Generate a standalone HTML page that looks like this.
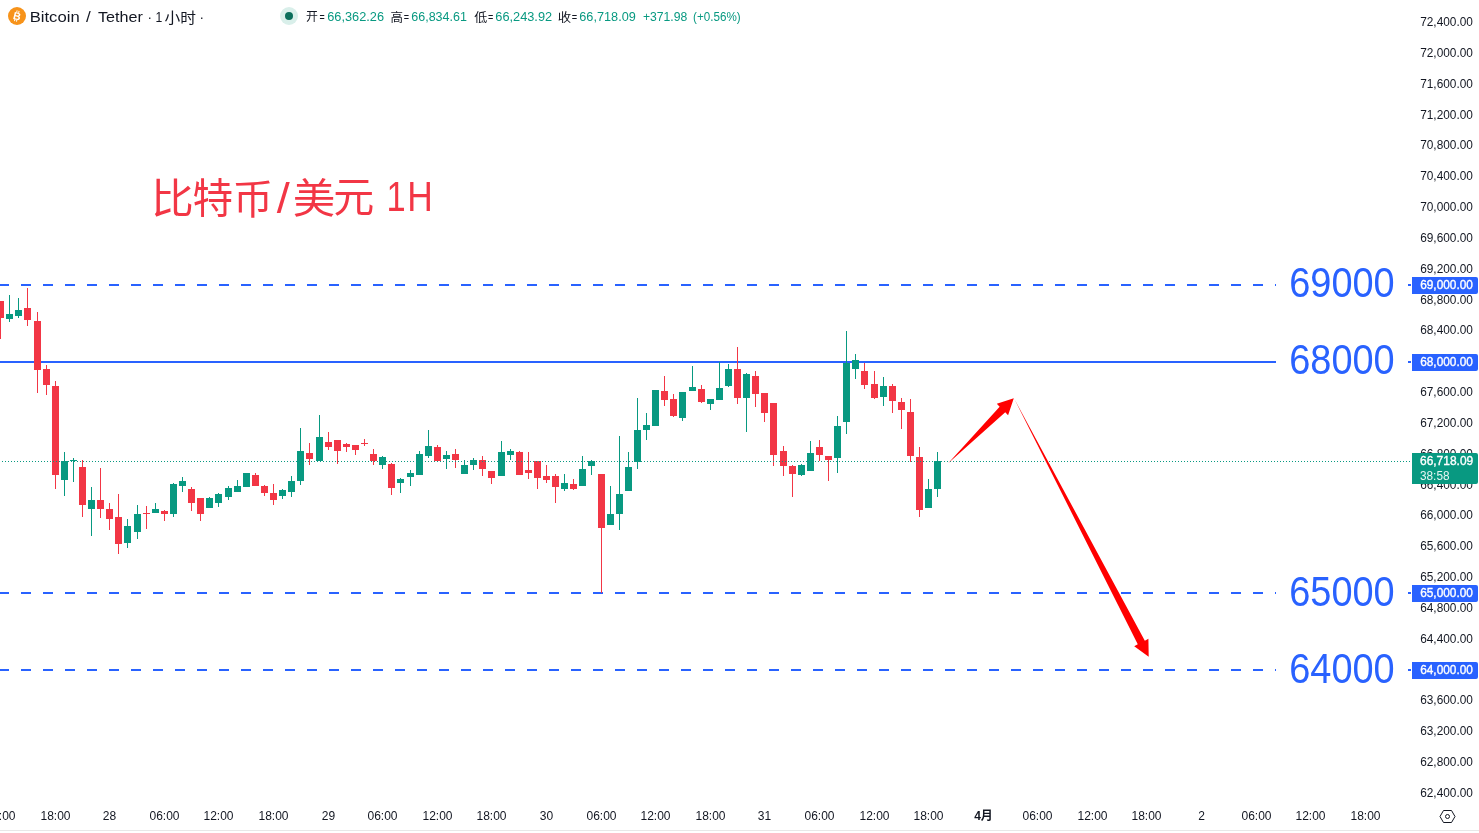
<!DOCTYPE html>
<html><head><meta charset="utf-8"><title>BTC/USDT 1H</title>
<style>html,body{margin:0;padding:0;background:#fff;width:1479px;height:833px;overflow:hidden}svg{display:block;will-change:transform}</style>
</head><body><svg width="1479" height="833" viewBox="0 0 1479 833"><line x1="-1" y1="285" x2="1276" y2="285" stroke="#2962ff" stroke-width="2" stroke-dasharray="10 12"/><rect x="1408" y="284" width="3" height="2" fill="#2962ff"/><rect x="0" y="361" width="1276" height="2" fill="#2962ff"/><rect x="1408" y="361" width="3" height="2" fill="#2962ff"/><line x1="-1" y1="593" x2="1276" y2="593" stroke="#2962ff" stroke-width="2" stroke-dasharray="10 12"/><rect x="1408" y="592" width="3" height="2" fill="#2962ff"/><line x1="-1" y1="670" x2="1276" y2="670" stroke="#2962ff" stroke-width="2" stroke-dasharray="10 12"/><rect x="1408" y="669" width="3" height="2" fill="#2962ff"/><g shape-rendering="crispEdges"><rect x="0" y="301" width="1" height="38" fill="#f23645"/><rect x="-3" y="301" width="7" height="17" fill="#f23645"/><rect x="9" y="295" width="1" height="27" fill="#089981"/><rect x="6" y="314" width="7" height="5" fill="#089981"/><rect x="18" y="298" width="1" height="20" fill="#089981"/><rect x="15" y="310" width="7" height="6" fill="#089981"/><rect x="27" y="288" width="1" height="38" fill="#f23645"/><rect x="24" y="308" width="7" height="12" fill="#f23645"/><rect x="37" y="312" width="1" height="81" fill="#f23645"/><rect x="34" y="321" width="7" height="49" fill="#f23645"/><rect x="46" y="365" width="1" height="30" fill="#f23645"/><rect x="43" y="369" width="7" height="16" fill="#f23645"/><rect x="55" y="381" width="1" height="108" fill="#f23645"/><rect x="52" y="386" width="7" height="89" fill="#f23645"/><rect x="64" y="452" width="1" height="44" fill="#089981"/><rect x="61" y="461" width="7" height="19" fill="#089981"/><rect x="73" y="458" width="1" height="24" fill="#089981"/><rect x="70" y="460" width="7" height="1" fill="#089981"/><rect x="82" y="460" width="1" height="57" fill="#f23645"/><rect x="79" y="467" width="7" height="38" fill="#f23645"/><rect x="91" y="487" width="1" height="49" fill="#089981"/><rect x="88" y="500" width="7" height="9" fill="#089981"/><rect x="100" y="468" width="1" height="50" fill="#f23645"/><rect x="97" y="500" width="7" height="9" fill="#f23645"/><rect x="109" y="503" width="1" height="27" fill="#f23645"/><rect x="106" y="509" width="7" height="10" fill="#f23645"/><rect x="118" y="494" width="1" height="60" fill="#f23645"/><rect x="115" y="517" width="7" height="27" fill="#f23645"/><rect x="127" y="519" width="1" height="29" fill="#089981"/><rect x="124" y="526" width="7" height="17" fill="#089981"/><rect x="137" y="505" width="1" height="34" fill="#089981"/><rect x="134" y="514" width="7" height="18" fill="#089981"/><rect x="146" y="506" width="1" height="23" fill="#f23645"/><rect x="143" y="513" width="7" height="1" fill="#f23645"/><rect x="155" y="503" width="1" height="10" fill="#089981"/><rect x="152" y="509" width="7" height="4" fill="#089981"/><rect x="164" y="510" width="1" height="11" fill="#f23645"/><rect x="161" y="511" width="7" height="3" fill="#f23645"/><rect x="173" y="483" width="1" height="34" fill="#089981"/><rect x="170" y="484" width="7" height="30" fill="#089981"/><rect x="182" y="477" width="1" height="15" fill="#089981"/><rect x="179" y="481" width="7" height="5" fill="#089981"/><rect x="191" y="487" width="1" height="24" fill="#f23645"/><rect x="188" y="489" width="7" height="14" fill="#f23645"/><rect x="200" y="498" width="1" height="23" fill="#f23645"/><rect x="197" y="498" width="7" height="16" fill="#f23645"/><rect x="209" y="497" width="1" height="11" fill="#089981"/><rect x="206" y="498" width="7" height="10" fill="#089981"/><rect x="218" y="493" width="1" height="14" fill="#089981"/><rect x="215" y="494" width="7" height="9" fill="#089981"/><rect x="228" y="486" width="1" height="14" fill="#089981"/><rect x="225" y="488" width="7" height="9" fill="#089981"/><rect x="237" y="480" width="1" height="12" fill="#089981"/><rect x="234" y="486" width="7" height="6" fill="#089981"/><rect x="246" y="473" width="1" height="14" fill="#089981"/><rect x="243" y="473" width="7" height="14" fill="#089981"/><rect x="255" y="473" width="1" height="13" fill="#f23645"/><rect x="252" y="475" width="7" height="11" fill="#f23645"/><rect x="264" y="485" width="1" height="11" fill="#f23645"/><rect x="261" y="486" width="7" height="7" fill="#f23645"/><rect x="273" y="484" width="1" height="21" fill="#f23645"/><rect x="270" y="493" width="7" height="7" fill="#f23645"/><rect x="282" y="489" width="1" height="10" fill="#089981"/><rect x="279" y="490" width="7" height="6" fill="#089981"/><rect x="291" y="476" width="1" height="21" fill="#089981"/><rect x="288" y="481" width="7" height="11" fill="#089981"/><rect x="300" y="428" width="1" height="57" fill="#089981"/><rect x="297" y="451" width="7" height="30" fill="#089981"/><rect x="309" y="443" width="1" height="22" fill="#f23645"/><rect x="306" y="453" width="7" height="6" fill="#f23645"/><rect x="319" y="415" width="1" height="46" fill="#089981"/><rect x="316" y="437" width="7" height="24" fill="#089981"/><rect x="328" y="432" width="1" height="18" fill="#f23645"/><rect x="325" y="442" width="7" height="5" fill="#f23645"/><rect x="337" y="440" width="1" height="24" fill="#f23645"/><rect x="334" y="440" width="7" height="11" fill="#f23645"/><rect x="346" y="443" width="1" height="9" fill="#f23645"/><rect x="343" y="444" width="7" height="3" fill="#f23645"/><rect x="355" y="445" width="1" height="10" fill="#f23645"/><rect x="352" y="445" width="7" height="5" fill="#f23645"/><rect x="364" y="439" width="1" height="7" fill="#f23645"/><rect x="361" y="443" width="7" height="1" fill="#f23645"/><rect x="373" y="449" width="1" height="16" fill="#f23645"/><rect x="370" y="454" width="7" height="7" fill="#f23645"/><rect x="382" y="456" width="1" height="13" fill="#089981"/><rect x="379" y="457" width="7" height="8" fill="#089981"/><rect x="391" y="463" width="1" height="32" fill="#f23645"/><rect x="388" y="464" width="7" height="24" fill="#f23645"/><rect x="400" y="478" width="1" height="15" fill="#089981"/><rect x="397" y="479" width="7" height="4" fill="#089981"/><rect x="410" y="470" width="1" height="16" fill="#089981"/><rect x="407" y="473" width="7" height="4" fill="#089981"/><rect x="419" y="451" width="1" height="24" fill="#089981"/><rect x="416" y="454" width="7" height="21" fill="#089981"/><rect x="428" y="430" width="1" height="28" fill="#089981"/><rect x="425" y="446" width="7" height="10" fill="#089981"/><rect x="437" y="445" width="1" height="16" fill="#f23645"/><rect x="434" y="447" width="7" height="14" fill="#f23645"/><rect x="446" y="451" width="1" height="18" fill="#089981"/><rect x="443" y="455" width="7" height="4" fill="#089981"/><rect x="455" y="449" width="1" height="19" fill="#f23645"/><rect x="452" y="454" width="7" height="6" fill="#f23645"/><rect x="464" y="460" width="1" height="14" fill="#089981"/><rect x="461" y="465" width="7" height="9" fill="#089981"/><rect x="473" y="458" width="1" height="12" fill="#089981"/><rect x="470" y="460" width="7" height="5" fill="#089981"/><rect x="482" y="456" width="1" height="20" fill="#f23645"/><rect x="479" y="460" width="7" height="9" fill="#f23645"/><rect x="491" y="471" width="1" height="13" fill="#f23645"/><rect x="488" y="471" width="7" height="7" fill="#f23645"/><rect x="501" y="441" width="1" height="35" fill="#089981"/><rect x="498" y="452" width="7" height="24" fill="#089981"/><rect x="510" y="449" width="1" height="11" fill="#089981"/><rect x="507" y="451" width="7" height="4" fill="#089981"/><rect x="519" y="451" width="1" height="24" fill="#f23645"/><rect x="516" y="452" width="7" height="23" fill="#f23645"/><rect x="528" y="452" width="1" height="27" fill="#f23645"/><rect x="525" y="470" width="7" height="3" fill="#f23645"/><rect x="537" y="461" width="1" height="28" fill="#f23645"/><rect x="534" y="461" width="7" height="17" fill="#f23645"/><rect x="546" y="465" width="1" height="18" fill="#f23645"/><rect x="543" y="476" width="7" height="4" fill="#f23645"/><rect x="555" y="474" width="1" height="29" fill="#f23645"/><rect x="552" y="476" width="7" height="11" fill="#f23645"/><rect x="564" y="474" width="1" height="17" fill="#089981"/><rect x="561" y="483" width="7" height="6" fill="#089981"/><rect x="573" y="479" width="1" height="11" fill="#f23645"/><rect x="570" y="484" width="7" height="5" fill="#f23645"/><rect x="582" y="456" width="1" height="30" fill="#089981"/><rect x="579" y="469" width="7" height="17" fill="#089981"/><rect x="591" y="460" width="1" height="15" fill="#089981"/><rect x="588" y="461" width="7" height="5" fill="#089981"/><rect x="601" y="474" width="1" height="119" fill="#f23645"/><rect x="598" y="474" width="7" height="54" fill="#f23645"/><rect x="610" y="486" width="1" height="39" fill="#089981"/><rect x="607" y="514" width="7" height="11" fill="#089981"/><rect x="619" y="436" width="1" height="94" fill="#089981"/><rect x="616" y="494" width="7" height="20" fill="#089981"/><rect x="628" y="452" width="1" height="39" fill="#089981"/><rect x="625" y="467" width="7" height="24" fill="#089981"/><rect x="637" y="398" width="1" height="71" fill="#089981"/><rect x="634" y="430" width="7" height="32" fill="#089981"/><rect x="646" y="413" width="1" height="27" fill="#089981"/><rect x="643" y="425" width="7" height="5" fill="#089981"/><rect x="655" y="390" width="1" height="36" fill="#089981"/><rect x="652" y="390" width="7" height="36" fill="#089981"/><rect x="664" y="376" width="1" height="30" fill="#f23645"/><rect x="661" y="391" width="7" height="9" fill="#f23645"/><rect x="673" y="394" width="1" height="23" fill="#f23645"/><rect x="670" y="399" width="7" height="17" fill="#f23645"/><rect x="682" y="392" width="1" height="29" fill="#089981"/><rect x="679" y="392" width="7" height="26" fill="#089981"/><rect x="692" y="366" width="1" height="25" fill="#089981"/><rect x="689" y="387" width="7" height="4" fill="#089981"/><rect x="701" y="385" width="1" height="18" fill="#f23645"/><rect x="698" y="389" width="7" height="13" fill="#f23645"/><rect x="710" y="399" width="1" height="11" fill="#089981"/><rect x="707" y="399" width="7" height="5" fill="#089981"/><rect x="719" y="362" width="1" height="38" fill="#089981"/><rect x="716" y="388" width="7" height="12" fill="#089981"/><rect x="728" y="364" width="1" height="23" fill="#089981"/><rect x="725" y="369" width="7" height="17" fill="#089981"/><rect x="737" y="347" width="1" height="57" fill="#f23645"/><rect x="734" y="369" width="7" height="29" fill="#f23645"/><rect x="746" y="373" width="1" height="59" fill="#089981"/><rect x="743" y="374" width="7" height="24" fill="#089981"/><rect x="755" y="371" width="1" height="36" fill="#f23645"/><rect x="752" y="376" width="7" height="18" fill="#f23645"/><rect x="764" y="393" width="1" height="29" fill="#f23645"/><rect x="761" y="393" width="7" height="20" fill="#f23645"/><rect x="773" y="403" width="1" height="63" fill="#f23645"/><rect x="770" y="403" width="7" height="52" fill="#f23645"/><rect x="783" y="446" width="1" height="30" fill="#f23645"/><rect x="780" y="451" width="7" height="15" fill="#f23645"/><rect x="792" y="465" width="1" height="32" fill="#f23645"/><rect x="789" y="466" width="7" height="8" fill="#f23645"/><rect x="801" y="464" width="1" height="12" fill="#089981"/><rect x="798" y="465" width="7" height="10" fill="#089981"/><rect x="810" y="441" width="1" height="30" fill="#089981"/><rect x="807" y="453" width="7" height="18" fill="#089981"/><rect x="819" y="440" width="1" height="21" fill="#f23645"/><rect x="816" y="447" width="7" height="8" fill="#f23645"/><rect x="828" y="456" width="1" height="25" fill="#f23645"/><rect x="825" y="456" width="7" height="4" fill="#f23645"/><rect x="837" y="416" width="1" height="57" fill="#089981"/><rect x="834" y="426" width="7" height="32" fill="#089981"/><rect x="846" y="331" width="1" height="103" fill="#089981"/><rect x="843" y="363" width="7" height="59" fill="#089981"/><rect x="855" y="354" width="1" height="25" fill="#089981"/><rect x="852" y="360" width="7" height="9" fill="#089981"/><rect x="864" y="363" width="1" height="26" fill="#f23645"/><rect x="861" y="371" width="7" height="14" fill="#f23645"/><rect x="874" y="371" width="1" height="28" fill="#f23645"/><rect x="871" y="384" width="7" height="14" fill="#f23645"/><rect x="883" y="377" width="1" height="29" fill="#089981"/><rect x="880" y="386" width="7" height="11" fill="#089981"/><rect x="892" y="384" width="1" height="29" fill="#f23645"/><rect x="889" y="386" width="7" height="15" fill="#f23645"/><rect x="901" y="398" width="1" height="31" fill="#f23645"/><rect x="898" y="402" width="7" height="8" fill="#f23645"/><rect x="910" y="399" width="1" height="63" fill="#f23645"/><rect x="907" y="412" width="7" height="44" fill="#f23645"/><rect x="919" y="447" width="1" height="70" fill="#f23645"/><rect x="916" y="457" width="7" height="53" fill="#f23645"/><rect x="928" y="479" width="1" height="29" fill="#089981"/><rect x="925" y="489" width="7" height="19" fill="#089981"/><rect x="937" y="452" width="1" height="45" fill="#089981"/><rect x="934" y="461" width="7" height="28" fill="#089981"/></g><line x1="2" y1="461.5" x2="1410" y2="461.5" stroke="#089981" stroke-width="1" stroke-dasharray="1 2"/><polygon points="948.20,463.30 1005.26,412.31 1008.08,415.15 1013.80,398.20 996.81,403.79 999.63,406.63" fill="#ff0000"/><polygon points="1014.30,398.80 1137.76,644.36 1134.21,646.21 1148.70,656.70 1148.40,638.81 1144.85,640.66" fill="#ff0000"/><text x="29.68" y="21.90" font-family="'Liberation Sans', sans-serif" font-size="15.5" textLength="50.00" lengthAdjust="spacingAndGlyphs" fill="#131722">Bitcoin</text><text x="85.90" y="21.90" font-family="'Liberation Sans', sans-serif" font-size="15" textLength="4.76" lengthAdjust="spacingAndGlyphs" fill="#131722">/</text><text x="98.00" y="21.90" font-family="'Liberation Sans', sans-serif" font-size="15" textLength="44.88" lengthAdjust="spacingAndGlyphs" fill="#131722">Tether</text><text x="147.40" y="22.00" font-family="'Liberation Sans', sans-serif" font-size="15" textLength="4.50" lengthAdjust="spacingAndGlyphs" fill="#131722">·</text><text x="155.49" y="21.90" font-family="'Liberation Sans', sans-serif" font-size="15" textLength="6.79" lengthAdjust="spacingAndGlyphs" fill="#131722">1</text><text x="164.60" y="23.10" font-family="'Liberation Sans', 'Noto Sans CJK SC', sans-serif" font-size="15" textLength="31.52" lengthAdjust="spacingAndGlyphs" fill="#131722">小时</text><text x="199.50" y="22.00" font-family="'Liberation Sans', sans-serif" font-size="15" textLength="4.50" lengthAdjust="spacingAndGlyphs" fill="#131722">·</text><text x="306.10" y="21.10" font-family="'Liberation Sans', 'Noto Sans CJK SC', sans-serif" font-size="12" textLength="11.92" lengthAdjust="spacingAndGlyphs" fill="#131722">开</text><text x="319.50" y="20.80" font-family="'Liberation Sans', sans-serif" font-size="12" textLength="5.21" lengthAdjust="spacingAndGlyphs" fill="#131722">=</text><text x="327.20" y="20.80" font-family="'Liberation Sans', sans-serif" font-size="12" textLength="56.82" lengthAdjust="spacingAndGlyphs" fill="#089981">66,362.26</text><text x="390.50" y="22.10" font-family="'Liberation Sans', 'Noto Sans CJK SC', sans-serif" font-size="12" textLength="12.52" lengthAdjust="spacingAndGlyphs" fill="#131722">高</text><text x="403.70" y="20.80" font-family="'Liberation Sans', sans-serif" font-size="12" textLength="5.31" lengthAdjust="spacingAndGlyphs" fill="#131722">=</text><text x="411.30" y="20.80" font-family="'Liberation Sans', sans-serif" font-size="12" textLength="55.61" lengthAdjust="spacingAndGlyphs" fill="#089981">66,834.61</text><text x="474.20" y="22.10" font-family="'Liberation Sans', 'Noto Sans CJK SC', sans-serif" font-size="12" textLength="13.02" lengthAdjust="spacingAndGlyphs" fill="#131722">低</text><text x="488.00" y="20.80" font-family="'Liberation Sans', sans-serif" font-size="12" textLength="5.31" lengthAdjust="spacingAndGlyphs" fill="#131722">=</text><text x="495.30" y="20.80" font-family="'Liberation Sans', sans-serif" font-size="12" textLength="56.82" lengthAdjust="spacingAndGlyphs" fill="#089981">66,243.92</text><text x="557.68" y="22.10" font-family="'Liberation Sans', 'Noto Sans CJK SC', sans-serif" font-size="12" textLength="13.44" lengthAdjust="spacingAndGlyphs" fill="#131722">收</text><text x="571.80" y="20.80" font-family="'Liberation Sans', sans-serif" font-size="12" textLength="5.41" lengthAdjust="spacingAndGlyphs" fill="#131722">=</text><text x="579.30" y="20.80" font-family="'Liberation Sans', sans-serif" font-size="12" textLength="56.51" lengthAdjust="spacingAndGlyphs" fill="#089981">66,718.09</text><text x="642.90" y="20.80" font-family="'Liberation Sans', sans-serif" font-size="12" textLength="44.41" lengthAdjust="spacingAndGlyphs" fill="#089981">+371.98</text><text x="693.10" y="20.80" font-family="'Liberation Sans', sans-serif" font-size="12" textLength="47.53" lengthAdjust="spacingAndGlyphs" fill="#089981">(+0.56%)</text><text x="150.93" y="212.90" font-family="'Liberation Sans', 'Noto Sans CJK SC', sans-serif" font-size="41" textLength="42.76" lengthAdjust="spacingAndGlyphs" fill="#f23645">比</text><text x="192.61" y="212.90" font-family="'Liberation Sans', 'Noto Sans CJK SC', sans-serif" font-size="41" textLength="40.58" lengthAdjust="spacingAndGlyphs" fill="#f23645">特</text><text x="232.74" y="213.60" font-family="'Liberation Sans', 'Noto Sans CJK SC', sans-serif" font-size="41" textLength="40.41" lengthAdjust="spacingAndGlyphs" fill="#f23645">币</text><text x="292.72" y="212.60" font-family="'Liberation Sans', 'Noto Sans CJK SC', sans-serif" font-size="41" textLength="42.55" lengthAdjust="spacingAndGlyphs" fill="#f23645">美</text><text x="333.20" y="211.80" font-family="'Liberation Sans', 'Noto Sans CJK SC', sans-serif" font-size="41" textLength="41.00" lengthAdjust="spacingAndGlyphs" fill="#f23645">元</text><text x="276.80" y="213.00" font-family="'Liberation Sans', sans-serif" font-size="42.5" textLength="12.99" lengthAdjust="spacingAndGlyphs" fill="#f23645">/</text><text x="386.57" y="211.00" font-family="'Liberation Sans', sans-serif" font-size="42.5" textLength="19.16" lengthAdjust="spacingAndGlyphs" fill="#f23645">1</text><text x="407.20" y="211.00" font-family="'Liberation Sans', sans-serif" font-size="42.5" textLength="25.55" lengthAdjust="spacingAndGlyphs" fill="#f23645">H</text><text x="1289.19" y="297.00" font-family="'Liberation Sans', sans-serif" font-size="42" textLength="105.53" lengthAdjust="spacingAndGlyphs" fill="#2962ff">69000</text><text x="1289.19" y="373.80" font-family="'Liberation Sans', sans-serif" font-size="42" textLength="105.53" lengthAdjust="spacingAndGlyphs" fill="#2962ff">68000</text><text x="1289.19" y="605.90" font-family="'Liberation Sans', sans-serif" font-size="42" textLength="105.53" lengthAdjust="spacingAndGlyphs" fill="#2962ff">65000</text><text x="1289.19" y="682.80" font-family="'Liberation Sans', sans-serif" font-size="42" textLength="105.53" lengthAdjust="spacingAndGlyphs" fill="#2962ff">64000</text><text x="1420.20" y="26.00" font-family="'Liberation Sans', sans-serif" font-size="12" textLength="52.69" lengthAdjust="spacingAndGlyphs" fill="#131722">72,400.00</text><text x="1420.20" y="57.00" font-family="'Liberation Sans', sans-serif" font-size="12" textLength="52.69" lengthAdjust="spacingAndGlyphs" fill="#131722">72,000.00</text><text x="1420.20" y="88.00" font-family="'Liberation Sans', sans-serif" font-size="12" textLength="52.69" lengthAdjust="spacingAndGlyphs" fill="#131722">71,600.00</text><text x="1420.20" y="119.00" font-family="'Liberation Sans', sans-serif" font-size="12" textLength="52.69" lengthAdjust="spacingAndGlyphs" fill="#131722">71,200.00</text><text x="1420.20" y="149.00" font-family="'Liberation Sans', sans-serif" font-size="12" textLength="52.69" lengthAdjust="spacingAndGlyphs" fill="#131722">70,800.00</text><text x="1420.20" y="180.00" font-family="'Liberation Sans', sans-serif" font-size="12" textLength="52.69" lengthAdjust="spacingAndGlyphs" fill="#131722">70,400.00</text><text x="1420.20" y="211.00" font-family="'Liberation Sans', sans-serif" font-size="12" textLength="52.69" lengthAdjust="spacingAndGlyphs" fill="#131722">70,000.00</text><text x="1420.20" y="242.00" font-family="'Liberation Sans', sans-serif" font-size="12" textLength="52.69" lengthAdjust="spacingAndGlyphs" fill="#131722">69,600.00</text><text x="1420.20" y="273.00" font-family="'Liberation Sans', sans-serif" font-size="12" textLength="52.69" lengthAdjust="spacingAndGlyphs" fill="#131722">69,200.00</text><text x="1420.20" y="304.00" font-family="'Liberation Sans', sans-serif" font-size="12" textLength="52.69" lengthAdjust="spacingAndGlyphs" fill="#131722">68,800.00</text><text x="1420.20" y="334.00" font-family="'Liberation Sans', sans-serif" font-size="12" textLength="52.69" lengthAdjust="spacingAndGlyphs" fill="#131722">68,400.00</text><text x="1420.20" y="365.00" font-family="'Liberation Sans', sans-serif" font-size="12" textLength="52.69" lengthAdjust="spacingAndGlyphs" fill="#131722">68,000.00</text><text x="1420.20" y="396.00" font-family="'Liberation Sans', sans-serif" font-size="12" textLength="52.69" lengthAdjust="spacingAndGlyphs" fill="#131722">67,600.00</text><text x="1420.20" y="427.00" font-family="'Liberation Sans', sans-serif" font-size="12" textLength="52.69" lengthAdjust="spacingAndGlyphs" fill="#131722">67,200.00</text><text x="1420.20" y="458.00" font-family="'Liberation Sans', sans-serif" font-size="12" textLength="52.69" lengthAdjust="spacingAndGlyphs" fill="#131722">66,800.00</text><text x="1420.20" y="489.00" font-family="'Liberation Sans', sans-serif" font-size="12" textLength="52.69" lengthAdjust="spacingAndGlyphs" fill="#131722">66,400.00</text><text x="1420.20" y="519.00" font-family="'Liberation Sans', sans-serif" font-size="12" textLength="52.69" lengthAdjust="spacingAndGlyphs" fill="#131722">66,000.00</text><text x="1420.20" y="550.00" font-family="'Liberation Sans', sans-serif" font-size="12" textLength="52.69" lengthAdjust="spacingAndGlyphs" fill="#131722">65,600.00</text><text x="1420.20" y="581.00" font-family="'Liberation Sans', sans-serif" font-size="12" textLength="52.69" lengthAdjust="spacingAndGlyphs" fill="#131722">65,200.00</text><text x="1420.20" y="612.00" font-family="'Liberation Sans', sans-serif" font-size="12" textLength="52.69" lengthAdjust="spacingAndGlyphs" fill="#131722">64,800.00</text><text x="1420.20" y="643.00" font-family="'Liberation Sans', sans-serif" font-size="12" textLength="52.69" lengthAdjust="spacingAndGlyphs" fill="#131722">64,400.00</text><text x="1420.20" y="674.00" font-family="'Liberation Sans', sans-serif" font-size="12" textLength="52.69" lengthAdjust="spacingAndGlyphs" fill="#131722">64,000.00</text><text x="1420.20" y="704.00" font-family="'Liberation Sans', sans-serif" font-size="12" textLength="52.69" lengthAdjust="spacingAndGlyphs" fill="#131722">63,600.00</text><text x="1420.20" y="735.00" font-family="'Liberation Sans', sans-serif" font-size="12" textLength="52.69" lengthAdjust="spacingAndGlyphs" fill="#131722">63,200.00</text><text x="1420.20" y="766.00" font-family="'Liberation Sans', sans-serif" font-size="12" textLength="52.69" lengthAdjust="spacingAndGlyphs" fill="#131722">62,800.00</text><text x="1420.20" y="797.00" font-family="'Liberation Sans', sans-serif" font-size="12" textLength="52.69" lengthAdjust="spacingAndGlyphs" fill="#131722">62,400.00</text><path d="M1412 277h64a2 2 0 0 1 2 2v13a2 2 0 0 1-2 2h-64z" fill="#2962ff"/><path d="M1412 354h64a2 2 0 0 1 2 2v13a2 2 0 0 1-2 2h-64z" fill="#2962ff"/><path d="M1412 585h64a2 2 0 0 1 2 2v13a2 2 0 0 1-2 2h-64z" fill="#2962ff"/><path d="M1412 662h64a2 2 0 0 1 2 2v13a2 2 0 0 1-2 2h-64z" fill="#2962ff"/><path d="M1412 453h64a2 2 0 0 1 2 2v27a2 2 0 0 1-2 2h-64z" fill="#089981"/><text x="1420.20" y="289.40" font-family="'Liberation Sans', sans-serif" font-size="12" textLength="52.69" lengthAdjust="spacingAndGlyphs" fill="#ffffff" class="bx" stroke="#ffffff" stroke-width="0.35">69,000.00</text><text x="1420.20" y="366.40" font-family="'Liberation Sans', sans-serif" font-size="12" textLength="52.69" lengthAdjust="spacingAndGlyphs" fill="#ffffff" class="bx" stroke="#ffffff" stroke-width="0.35">68,000.00</text><text x="1420.20" y="597.40" font-family="'Liberation Sans', sans-serif" font-size="12" textLength="52.69" lengthAdjust="spacingAndGlyphs" fill="#ffffff" class="bx" stroke="#ffffff" stroke-width="0.35">65,000.00</text><text x="1420.20" y="674.40" font-family="'Liberation Sans', sans-serif" font-size="12" textLength="52.69" lengthAdjust="spacingAndGlyphs" fill="#ffffff" class="bx" stroke="#ffffff" stroke-width="0.35">64,000.00</text><text x="1420.00" y="464.90" font-family="'Liberation Sans', sans-serif" font-size="12" textLength="53.19" lengthAdjust="spacingAndGlyphs" fill="#ffffff" stroke="#ffffff" stroke-width="0.35">66,718.09</text><text x="1420.00" y="479.60" font-family="'Liberation Sans', sans-serif" font-size="12" textLength="29.53" lengthAdjust="spacingAndGlyphs" fill="#e6f5f2">38:58</text><text x="0.5" y="820" text-anchor="middle" font-family="'Liberation Sans', 'Noto Sans CJK SC', sans-serif" font-size="12" fill="#131722">12:00</text><text x="55.5" y="820" text-anchor="middle" font-family="'Liberation Sans', 'Noto Sans CJK SC', sans-serif" font-size="12" fill="#131722">18:00</text><text x="109.5" y="820" text-anchor="middle" font-family="'Liberation Sans', 'Noto Sans CJK SC', sans-serif" font-size="12" fill="#131722">28</text><text x="164.5" y="820" text-anchor="middle" font-family="'Liberation Sans', 'Noto Sans CJK SC', sans-serif" font-size="12" fill="#131722">06:00</text><text x="218.5" y="820" text-anchor="middle" font-family="'Liberation Sans', 'Noto Sans CJK SC', sans-serif" font-size="12" fill="#131722">12:00</text><text x="273.5" y="820" text-anchor="middle" font-family="'Liberation Sans', 'Noto Sans CJK SC', sans-serif" font-size="12" fill="#131722">18:00</text><text x="328.5" y="820" text-anchor="middle" font-family="'Liberation Sans', 'Noto Sans CJK SC', sans-serif" font-size="12" fill="#131722">29</text><text x="382.5" y="820" text-anchor="middle" font-family="'Liberation Sans', 'Noto Sans CJK SC', sans-serif" font-size="12" fill="#131722">06:00</text><text x="437.5" y="820" text-anchor="middle" font-family="'Liberation Sans', 'Noto Sans CJK SC', sans-serif" font-size="12" fill="#131722">12:00</text><text x="491.5" y="820" text-anchor="middle" font-family="'Liberation Sans', 'Noto Sans CJK SC', sans-serif" font-size="12" fill="#131722">18:00</text><text x="546.5" y="820" text-anchor="middle" font-family="'Liberation Sans', 'Noto Sans CJK SC', sans-serif" font-size="12" fill="#131722">30</text><text x="601.5" y="820" text-anchor="middle" font-family="'Liberation Sans', 'Noto Sans CJK SC', sans-serif" font-size="12" fill="#131722">06:00</text><text x="655.5" y="820" text-anchor="middle" font-family="'Liberation Sans', 'Noto Sans CJK SC', sans-serif" font-size="12" fill="#131722">12:00</text><text x="710.5" y="820" text-anchor="middle" font-family="'Liberation Sans', 'Noto Sans CJK SC', sans-serif" font-size="12" fill="#131722">18:00</text><text x="764.5" y="820" text-anchor="middle" font-family="'Liberation Sans', 'Noto Sans CJK SC', sans-serif" font-size="12" fill="#131722">31</text><text x="819.5" y="820" text-anchor="middle" font-family="'Liberation Sans', 'Noto Sans CJK SC', sans-serif" font-size="12" fill="#131722">06:00</text><text x="874.5" y="820" text-anchor="middle" font-family="'Liberation Sans', 'Noto Sans CJK SC', sans-serif" font-size="12" fill="#131722">12:00</text><text x="928.5" y="820" text-anchor="middle" font-family="'Liberation Sans', 'Noto Sans CJK SC', sans-serif" font-size="12" fill="#131722">18:00</text><text x="983.5" y="820" text-anchor="middle" font-family="'Liberation Sans', 'Noto Sans CJK SC', sans-serif" font-size="12" fill="#131722" font-weight="bold">4月</text><text x="1037.5" y="820" text-anchor="middle" font-family="'Liberation Sans', 'Noto Sans CJK SC', sans-serif" font-size="12" fill="#131722">06:00</text><text x="1092.5" y="820" text-anchor="middle" font-family="'Liberation Sans', 'Noto Sans CJK SC', sans-serif" font-size="12" fill="#131722">12:00</text><text x="1146.5" y="820" text-anchor="middle" font-family="'Liberation Sans', 'Noto Sans CJK SC', sans-serif" font-size="12" fill="#131722">18:00</text><text x="1201.5" y="820" text-anchor="middle" font-family="'Liberation Sans', 'Noto Sans CJK SC', sans-serif" font-size="12" fill="#131722">2</text><text x="1256.5" y="820" text-anchor="middle" font-family="'Liberation Sans', 'Noto Sans CJK SC', sans-serif" font-size="12" fill="#131722">06:00</text><text x="1310.5" y="820" text-anchor="middle" font-family="'Liberation Sans', 'Noto Sans CJK SC', sans-serif" font-size="12" fill="#131722">12:00</text><text x="1365.5" y="820" text-anchor="middle" font-family="'Liberation Sans', 'Noto Sans CJK SC', sans-serif" font-size="12" fill="#131722">18:00</text><rect x="0" y="830" width="1479" height="1" fill="#e8e8e8"/><polygon points="1443.5,810.5 1451.5,810.5 1455,816.5 1451.5,822.5 1443.5,822.5 1440,816.5" fill="none" stroke="#131722" stroke-width="1"/><circle cx="1447.5" cy="816.5" r="2" fill="none" stroke="#131722" stroke-width="1"/><circle cx="17" cy="16" r="9" fill="#f7931a"/><g transform="rotate(14 17 16)" fill="#fff"><text x="17.2" y="19.8" text-anchor="middle" font-family="'Liberation Sans', sans-serif" font-size="10.5" font-weight="bold">B</text><rect x="15.3" y="10.6" width="1" height="2"/><rect x="17.3" y="10.6" width="1" height="2"/><rect x="15.3" y="19.5" width="1" height="2"/><rect x="17.3" y="19.5" width="1" height="2"/></g><circle cx="289" cy="16" r="9" fill="#d9efea"/><circle cx="289" cy="16" r="4" fill="#0b6e5b"/></svg></body></html>
